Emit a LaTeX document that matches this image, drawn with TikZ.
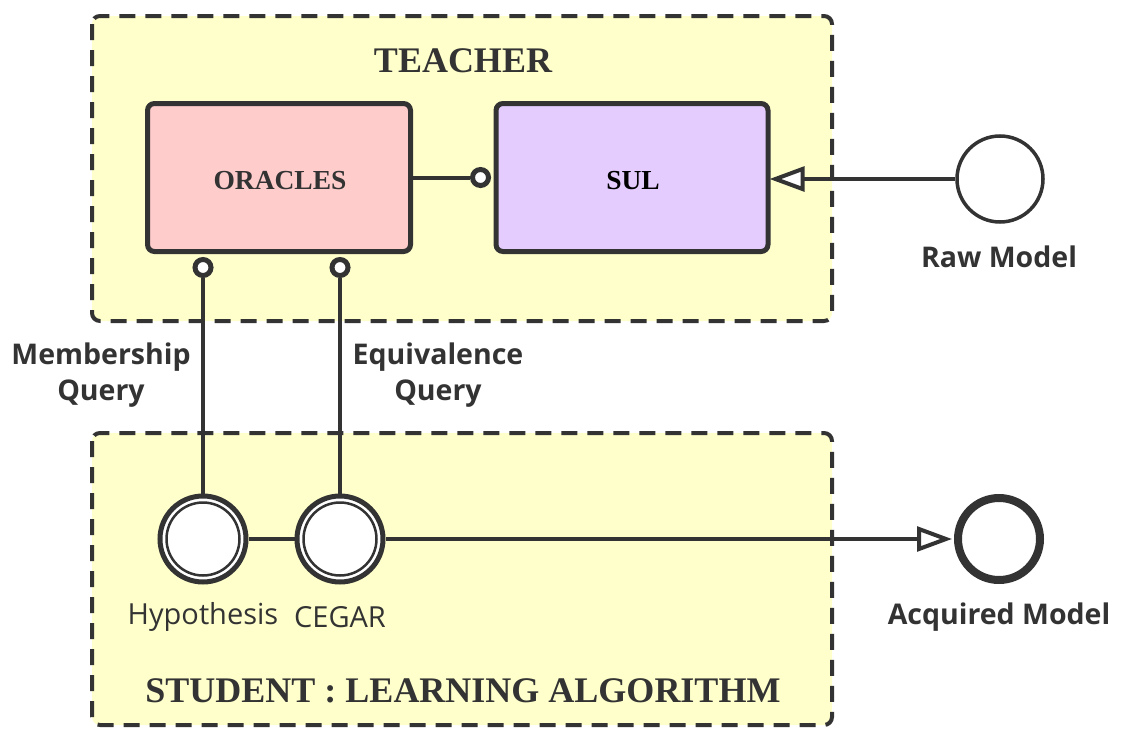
\documentclass[tikz,border=0pt]{standalone}
\usepackage{fontspec}
\setmainfont{Liberation Serif}
\newfontfamily\labelfont{Open Sans}
\usetikzlibrary{calc}
\definecolor{dk}{HTML}{333333}
\definecolor{yfill}{HTML}{FFFFCC}
\definecolor{pinkfill}{HTML}{FFCCCC}
\definecolor{purfill}{HTML}{E5CCFF}
\tikzset{
  group/.style={draw=dk, fill=yfill, line width=4pt, dash pattern=on 16pt off 10pt, rounded corners=8pt},
  boxnode/.style={draw=dk, line width=5pt, rounded corners=7pt, minimum width=263pt, minimum height=148pt, inner sep=0pt},
  roundnode/.style={circle, draw=dk, fill=white, minimum size=86pt, inner sep=0pt},
  conn/.style={draw=dk, line width=4pt},
  tiptri/.style={draw=dk, fill=white, line width=4pt, line join=miter},
  ballnode/.style={circle, draw=dk, fill=white, line width=5pt, minimum size=16pt, inner sep=0pt},
  title/.style={font=\fontsize{36}{40}\selectfont\bfseries, text=dk},
  boxtext/.style={font=\fontsize{27.5}{30}\selectfont\bfseries},
  lab/.style={font=\labelfont\fontsize{28.5}{36}\selectfont\bfseries, text=dk, align=center},
  labr/.style={font=\labelfont\fontsize{29}{36}\selectfont, text=dk},
}
\begin{document}
\begin{tikzpicture}[x=1pt,y=-1pt]
\useasboundingbox (0,0) rectangle (1130,744);
% groups
\path[group] (92,16) rectangle (832,321);
\path[group] (92,433) rectangle (832,725);
\node[title] (teacher) at (463,61) {TEACHER};
\node[title] (student) at (463,691) {STUDENT : LEARNING ALGORITHM};
% boxes
\node[boxnode, fill=pinkfill] (orac) at (279,177.5) {};
\node[boxtext, text=dk] (oractext) at (280,181) {ORACLES};
\node[boxnode, fill=purfill, minimum width=272pt] (sul) at (632,177.5) {};
\node[boxtext, text=black] (sultext) at (633,181) {SUL};
% raw model
\node[roundnode, line width=3.5pt] (raw) at (1000,179) {};
\node[lab] (rawlab) at (999,257) {Raw Model};
% hypothesis / cegar
\node[roundnode, line width=5pt] (hyp) at (203,539) {};
\draw[dk, line width=2.5pt] (hyp) circle[radius=36.5pt];
\node[roundnode, line width=5pt] (ceg) at (340,539) {};
\draw[dk, line width=2.5pt] (ceg) circle[radius=36.5pt];
\node[labr] (hyplab) at (203,617) {Hypothesis};
\node[labr] (ceglab) at (340,617) {CEGAR};
% acquired
\node[roundnode, line width=8pt, minimum size=82pt] (acq) at (999,539) {};
\node[lab] (acqlab) at (999,617) {Acquired Model};
% queries labels
\node[lab] (mq) at (101,375) {Membership\\Query};
\node[lab] (eq) at (438,375) {Equivalence\\Query};
% end markers
\coordinate (t1) at ($(sul.east |- raw.west)+(5,0)$);
\coordinate (t2) at ($(acq.west)+(-8,0)$);
\node[ballnode] (b0) at ($(sul.west)+(-13,0)$) {};
\node[ballnode] (b1) at ($(orac.south -| hyp)+(0,13.5)$) {};
\node[ballnode] (b2) at ($(orac.south -| ceg)+(0,13.5)$) {};
% connectors
\draw[conn] (raw.west) -- (t1);
\draw[tiptri] (t1) -- ++(27,-10) -- ++(0,20) -- cycle;
\draw[conn] (orac.east |- b0) -- (b0.west);
\draw[conn] (hyp.north) -- (b1.south);
\draw[conn] (ceg.north) -- (b2.south);
\draw[conn] (hyp.east) -- (ceg.west);
\draw[conn] (ceg.east) -- (t2);
\draw[tiptri] (t2) -- ++(-27,-10) -- ++(0,20) -- cycle;
\end{tikzpicture}
\end{document}
